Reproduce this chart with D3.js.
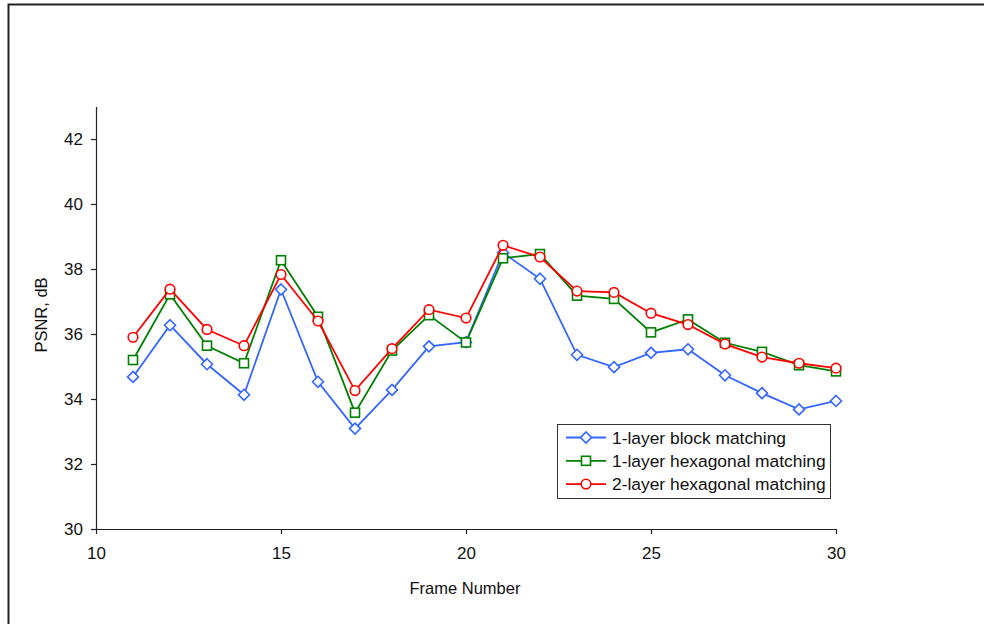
<!DOCTYPE html>
<html>
<head>
<meta charset="utf-8">
<script src="https://cdn.jsdelivr.net/npm/d3@7"></script>
<style>
  body { margin: 0; background: #fff; }
  text { font-family: "Liberation Sans", Arial, sans-serif; fill: #111; }
</style>
</head>
<body>
<svg id="chart" width="984" height="624"></svg>
<script>
// frame numbers on the x axis
var frames = [11, 12, 13, 14, 15, 16, 17, 18, 19, 20, 21, 22, 23, 24, 25, 26, 27, 28, 29, 30];

// PSNR values in dB
var blockMatching = [34.68, 36.27, 35.07, 34.13, 37.37, 34.53, 33.09, 34.28, 35.62, 35.75,
                     38.50, 37.70, 35.36, 34.98, 35.42, 35.53, 34.73, 34.18, 33.68, 33.94];
var hexMatching1 = [35.20, 37.22, 35.64, 35.10, 38.27, 36.53, 33.58, 35.49, 36.58, 35.74,
                    38.33, 38.46, 37.18, 37.08, 36.05, 36.45, 35.73, 35.45, 35.04, 34.85];
var hexMatching2 = [35.90, 37.38, 36.14, 35.64, 37.83, 36.40, 34.26, 35.55, 36.75, 36.49,
                    38.73, 38.37, 37.32, 37.28, 36.64, 36.29, 35.69, 35.29, 35.10, 34.95];

var seriesNames = ["1-layer block matching", "1-layer hexagonal matching", "2-layer hexagonal matching"];
var xTicks = [10, 15, 20, 25, 30];
var yTicks = [30, 32, 34, 36, 38, 40, 42];

var svg = d3.select("#chart");

// outer frame, right and bottom edges fall outside the picture
svg.append("rect")
    .attr("x", 8.5).attr("y", 4.5)
    .attr("width", 1000).attr("height", 1000)
    .attr("fill", "none")
    .attr("stroke", "#222")
    .attr("stroke-width", 2);

var xScale = d3.scaleLinear().domain([10, 30]).range([96, 836]);
var yScale = d3.scaleLinear().domain([30, 43]).range([529, 106.5]);

var xAxis = d3.axisBottom(xScale).tickValues(xTicks).tickSize(5).tickPadding(13).tickSizeOuter(0);
var yAxis = d3.axisLeft(yScale).tickValues(yTicks).tickSize(5).tickPadding(8).tickSizeOuter(0);

var gx = svg.append("g")
    .attr("transform", "translate(0,529)")
    .call(xAxis);
var gy = svg.append("g")
    .attr("transform", "translate(96,0)")
    .call(yAxis);

[gx, gy].forEach(function(g) {
    g.select(".domain").attr("stroke", "#222").attr("stroke-width", 1.2);
    g.selectAll(".tick line").attr("stroke", "#222").attr("stroke-width", 1.2);
    g.selectAll(".tick text").style("font-size", "17px").attr("fill", "#111");
});

// axis titles
svg.append("text")
    .attr("x", 465).attr("y", 594)
    .attr("text-anchor", "middle")
    .style("font-size", "16.5px")
    .text("Frame Number");

svg.append("text")
    .attr("transform", "translate(47,315) rotate(-90)")
    .attr("text-anchor", "middle")
    .style("font-size", "16.5px")
    .text("PSNR, dB");

var series = [
    { name: seriesNames[0], values: blockMatching, color: "#3366ff", symbol: "diamond" },
    { name: seriesNames[1], values: hexMatching1, color: "#008000", symbol: "square" },
    { name: seriesNames[2], values: hexMatching2, color: "#ff0000", symbol: "circle" }
];

function drawMarker(g, type, color) {
    if (type == "diamond") {
        g.append("path").attr("d", "M0,-5.5L5.5,0L0,5.5L-5.5,0Z");
    } else if (type == "square") {
        g.append("rect").attr("x", -4.5).attr("y", -4.5).attr("width", 9).attr("height", 9);
    } else {
        g.append("circle").attr("r", 4.8);
    }
    g.selectAll("*")
        .attr("fill", "#fff")
        .attr("stroke", color)
        .attr("stroke-width", 1.6);
}

var line = d3.line()
    .x(function(d, i) { return xScale(frames[i]); })
    .y(function(d) { return yScale(d); });

series.forEach(function(s) {
    svg.append("path")
        .datum(s.values)
        .attr("d", line)
        .attr("fill", "none")
        .attr("stroke", s.color)
        .attr("stroke-width", 1.8);

    s.values.forEach(function(v, i) {
        var m = svg.append("g")
            .attr("transform", "translate(" + xScale(frames[i]) + "," + yScale(v) + ")");
        drawMarker(m, s.symbol, s.color);
    });
});

// legend
var legend = svg.append("g").attr("transform", "translate(557,424)");
legend.append("rect")
    .attr("x", 0.5).attr("y", 0.5)
    .attr("width", 273).attr("height", 74)
    .attr("fill", "#fff")
    .attr("stroke", "#333")
    .attr("stroke-width", 1);

series.forEach(function(s, i) {
    var row = legend.append("g").attr("transform", "translate(0," + (13.5 + i * 23.3) + ")");
    row.append("line")
        .attr("x1", 9).attr("x2", 49)
        .attr("stroke", s.color)
        .attr("stroke-width", 1.8);
    var m = row.append("g").attr("transform", "translate(29,0)");
    drawMarker(m, s.symbol, s.color);
    row.append("text")
        .attr("x", 55).attr("y", 0)
        .attr("dy", "0.35em")
        .style("font-size", "17.4px")
        .text(s.name);
});
</script>
</body>
</html>
